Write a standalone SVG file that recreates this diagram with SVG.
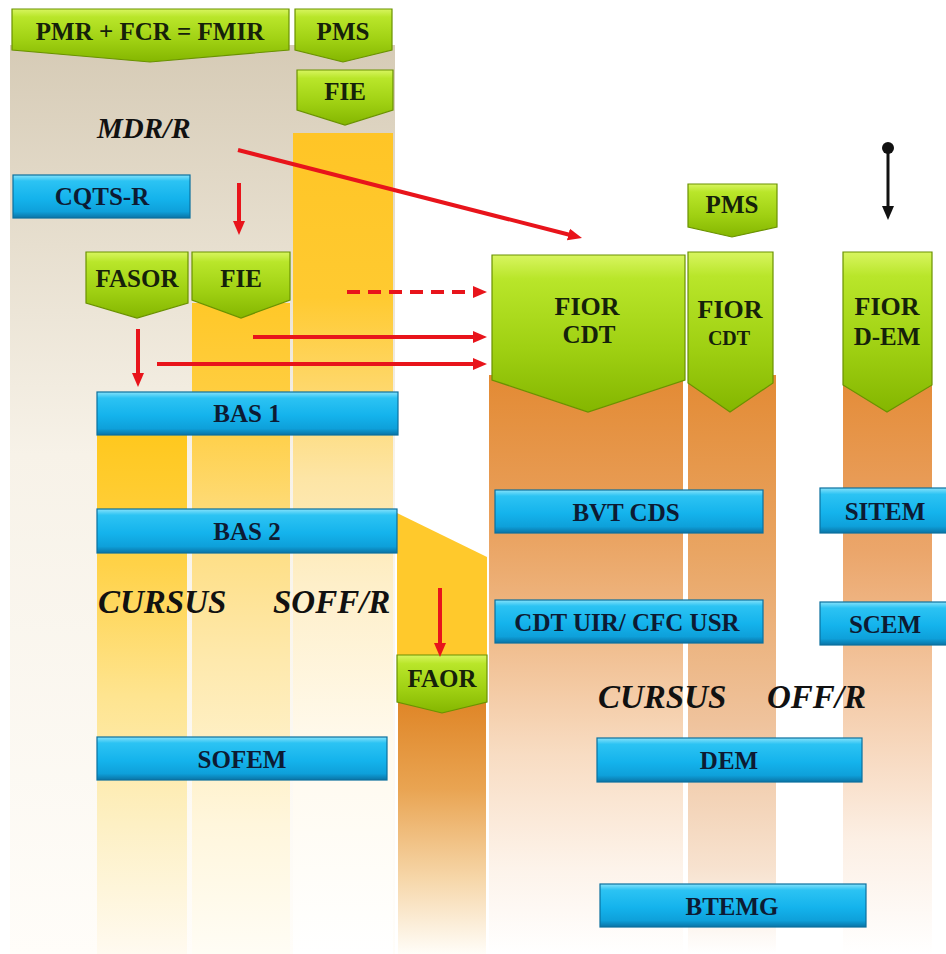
<svg xmlns="http://www.w3.org/2000/svg" width="946" height="954" viewBox="0 0 946 954">
<defs>
<style>
.gr{fill:url(#gGreen);stroke:#6a9200;stroke-width:1.2}
.bx{fill:url(#gBlue);stroke:#0a709e;stroke-width:1.2}
.gt{font-family:"Liberation Serif","Times New Roman",serif;font-weight:bold;fill:#15210a;text-anchor:middle;font-size:25px}
.bt{font-family:"Liberation Serif","Times New Roman",serif;font-weight:bold;fill:#0d1b33;text-anchor:middle;font-size:25px}
.it{font-family:"Liberation Serif","Times New Roman",serif;font-weight:bold;font-style:italic;fill:#111;font-size:33px}
.ra{stroke:#e8141b;stroke-width:4;fill:none;marker-end:url(#mRed)}
</style>
<linearGradient id="gGreen" x1="0" y1="0" x2="0" y2="1">
<stop offset="0" stop-color="#d8f560"/><stop offset="0.15" stop-color="#b9e62a"/><stop offset="0.6" stop-color="#9fd012"/><stop offset="1" stop-color="#84b600"/>
</linearGradient>
<linearGradient id="gBlue" x1="0" y1="0" x2="0" y2="1">
<stop offset="0" stop-color="#86e2fb"/><stop offset="0.14" stop-color="#2cc3f3"/><stop offset="0.55" stop-color="#14b3ec"/><stop offset="0.85" stop-color="#0ea0da"/><stop offset="1" stop-color="#0a74a6"/>
</linearGradient>
<linearGradient id="gBeige" gradientUnits="userSpaceOnUse" x1="0" y1="45" x2="0" y2="954">
<stop offset="0" stop-color="#d6cbb6"/><stop offset="0.22" stop-color="#e7dfcf"/><stop offset="0.45" stop-color="#f7f2e8"/><stop offset="1" stop-color="#fffdf9"/>
</linearGradient>
<linearGradient id="gColC" gradientUnits="userSpaceOnUse" x1="0" y1="133" x2="0" y2="954">
<stop offset="0" stop-color="#ffc526"/><stop offset="0.2" stop-color="#ffca30"/><stop offset="0.3" stop-color="#fed665"/><stop offset="0.42" stop-color="#fde5a5"/><stop offset="0.55" stop-color="#feefc9"/><stop offset="0.75" stop-color="#fffaee"/><stop offset="1" stop-color="#ffffff"/>
</linearGradient>
<linearGradient id="gColB" gradientUnits="userSpaceOnUse" x1="0" y1="303" x2="0" y2="954">
<stop offset="0" stop-color="#ffc828"/><stop offset="0.2" stop-color="#ffd04a"/><stop offset="0.32" stop-color="#fedb78"/><stop offset="0.55" stop-color="#fee9ad"/><stop offset="0.8" stop-color="#fff6dc"/><stop offset="1" stop-color="#fffdf5"/>
</linearGradient>
<linearGradient id="gColA" gradientUnits="userSpaceOnUse" x1="0" y1="435" x2="0" y2="954">
<stop offset="0" stop-color="#ffc81e"/><stop offset="0.25" stop-color="#ffd248"/><stop offset="0.5" stop-color="#fee48f"/><stop offset="0.75" stop-color="#fdf0c4"/><stop offset="1" stop-color="#fffaf0"/>
</linearGradient>
<linearGradient id="gColD" gradientUnits="userSpaceOnUse" x1="0" y1="380" x2="0" y2="954">
<stop offset="0" stop-color="#e38b35"/><stop offset="0.25" stop-color="#e9a05c"/><stop offset="0.45" stop-color="#f0bc8c"/><stop offset="0.65" stop-color="#f8dcc2"/><stop offset="0.85" stop-color="#fdf3ea"/><stop offset="1" stop-color="#ffffff"/>
</linearGradient>
<linearGradient id="gColE" gradientUnits="userSpaceOnUse" x1="0" y1="380" x2="0" y2="954">
<stop offset="0" stop-color="#e38b35"/><stop offset="0.3" stop-color="#e9a563"/><stop offset="0.6" stop-color="#efc39d"/><stop offset="0.85" stop-color="#f7e2cf"/><stop offset="1" stop-color="#ffffff"/>
</linearGradient>
<linearGradient id="gColF" gradientUnits="userSpaceOnUse" x1="0" y1="380" x2="0" y2="954">
<stop offset="0" stop-color="#e48c38"/><stop offset="0.3" stop-color="#eba66b"/><stop offset="0.55" stop-color="#f4cba8"/><stop offset="0.8" stop-color="#fcefe4"/><stop offset="1" stop-color="#ffffff"/>
</linearGradient>
<linearGradient id="gColG" gradientUnits="userSpaceOnUse" x1="0" y1="700" x2="0" y2="954">
<stop offset="0" stop-color="#df8526"/><stop offset="0.35" stop-color="#e9a452"/><stop offset="0.7" stop-color="#f6d6a8"/><stop offset="1" stop-color="#fffdf8"/>
</linearGradient>
<marker id="mRed" markerUnits="userSpaceOnUse" markerWidth="16" markerHeight="14" refX="4" refY="7" orient="auto">
<path d="M0,1 L14,7 L0,13 z" fill="#e8141b"/>
</marker>
<marker id="mBlack" markerUnits="userSpaceOnUse" markerWidth="16" markerHeight="14" refX="4" refY="7" orient="auto">
<path d="M0,1 L14,7 L0,13 z" fill="#111"/>
</marker>
</defs>

<g id="background">
<rect x="0" y="0" width="946" height="954" fill="#ffffff"/>
<rect x="10" y="45" width="385" height="909" fill="url(#gBeige)"/>
<rect x="293" y="133" width="100" height="821" fill="url(#gColC)"/>
<rect x="192" y="303" width="98" height="651" fill="url(#gColB)"/>
<rect x="97" y="435" width="90" height="519" fill="url(#gColA)"/>
<polygon points="397,513 487,557 487,660 397,660" fill="#ffc92c"/>
<rect x="398" y="700" width="88" height="254" fill="url(#gColG)"/>
<rect x="489" y="375" width="194" height="579" fill="url(#gColD)"/>
<rect x="688" y="375" width="88" height="579" fill="url(#gColE)"/>
<rect x="843" y="375" width="89" height="579" fill="url(#gColF)"/>
</g>

<g id="n-pmr"><polygon class="gr" points="12,9 289,9 289,50 150,62 12,50"/><text class="gt" x="150" y="40">PMR + FCR = FMIR</text></g>
<g id="n-pms-top"><polygon class="gr" points="295,9 392,9 392,50 343,62 295,50"/><text class="gt" x="343" y="40">PMS</text></g>
<g id="n-fie-top"><polygon class="gr" points="297,70 393,70 393,110 345,125 297,110"/><text class="gt" x="345" y="100">FIE</text></g>
<g id="n-fasor"><polygon class="gr" points="86,252 188,252 188,303 137,318 86,303"/><text class="gt" x="137" y="287">FASOR</text></g>
<g id="n-fie-mid"><polygon class="gr" points="192,252 290,252 290,300 241,318 192,300"/><text class="gt" x="241" y="287">FIE</text></g>
<g id="n-fior-cdt-1"><polygon class="gr" points="492,255 685,255 685,380 588,412 492,380"/><text class="gt" x="587" y="315" style="font-size:26px">FIOR</text><text class="gt" x="589" y="343">CDT</text></g>
<g id="n-pms-right"><polygon class="gr" points="688,184 777,184 777,227 732,237 688,227"/><text class="gt" x="732" y="213">PMS</text></g>
<g id="n-fior-cdt-2"><polygon class="gr" points="688,252 773,252 773,383 730,412 688,383"/><text class="gt" x="730" y="318" style="font-size:26px">FIOR</text><text class="gt" x="729" y="345" style="font-size:20px">CDT</text></g>
<g id="n-fior-dem"><polygon class="gr" points="843,252 932,252 932,385 887,412 843,385"/><text class="gt" x="887" y="315" style="font-size:26px">FIOR</text><text class="gt" x="887" y="345">D-EM</text></g>
<g id="n-faor"><polygon class="gr" points="397,655 487,655 487,702 442,713 397,702"/><text class="gt" x="442" y="687">FAOR</text></g>

<g id="n-cqts"><rect class="bx" x="13" y="175" width="177" height="43"/><text class="bt" x="102" y="205">CQTS-R</text></g>
<g id="n-bas1"><rect class="bx" x="97" y="392" width="301" height="43"/><text class="bt" x="247" y="422">BAS 1</text></g>
<g id="n-bas2"><rect class="bx" x="97" y="509" width="300" height="44"/><text class="bt" x="247" y="540">BAS 2</text></g>
<g id="n-sofem"><rect class="bx" x="97" y="737" width="290" height="43"/><text class="bt" x="242" y="768">SOFEM</text></g>
<g id="n-bvt"><rect class="bx" x="495" y="490" width="268" height="43"/><text class="bt" x="626" y="521">BVT CDS</text></g>
<g id="n-cdtuir"><rect class="bx" x="495" y="600" width="268" height="43"/><text class="bt" x="627" y="631">CDT UIR/ CFC USR</text></g>
<g id="n-sitem"><rect class="bx" x="820" y="488" width="130" height="45"/><text class="bt" x="885" y="520">SITEM</text></g>
<g id="n-scem"><rect class="bx" x="820" y="602" width="130" height="43"/><text class="bt" x="885" y="633">SCEM</text></g>
<g id="n-dem"><rect class="bx" x="597" y="738" width="265" height="44"/><text class="bt" x="729" y="769">DEM</text></g>
<g id="n-btemg"><rect class="bx" x="600" y="884" width="266" height="43"/><text class="bt" x="732" y="915">BTEMG</text></g>

<g id="labels">
<text class="it" x="97" y="138" style="font-size:29px">MDR/R</text>
<text class="it" x="98" y="613">CURSUS</text>
<text class="it" x="273" y="613">SOFF/R</text>
<text class="it" x="598" y="708">CURSUS</text>
<text class="it" x="767" y="708">OFF/R</text>
</g>

<g id="connectors">
<line class="ra" x1="238" y1="150" x2="572.3" y2="235.5"/>
<line class="ra" x1="239" y1="183" x2="239" y2="225"/>
<line class="ra" x1="347" y1="292" x2="477" y2="292" stroke-dasharray="13 8"/>
<line class="ra" x1="253" y1="337" x2="477" y2="337"/>
<line class="ra" x1="157" y1="364" x2="477" y2="364"/>
<line class="ra" x1="138" y1="329" x2="138" y2="377"/>
<line class="ra" x1="440" y1="588" x2="440" y2="647"/>
<circle cx="888" cy="148" r="6" fill="#111"/>
<line x1="888" y1="148" x2="888" y2="210" stroke="#111" stroke-width="3" marker-end="url(#mBlack)"/>
</g>
</svg>
